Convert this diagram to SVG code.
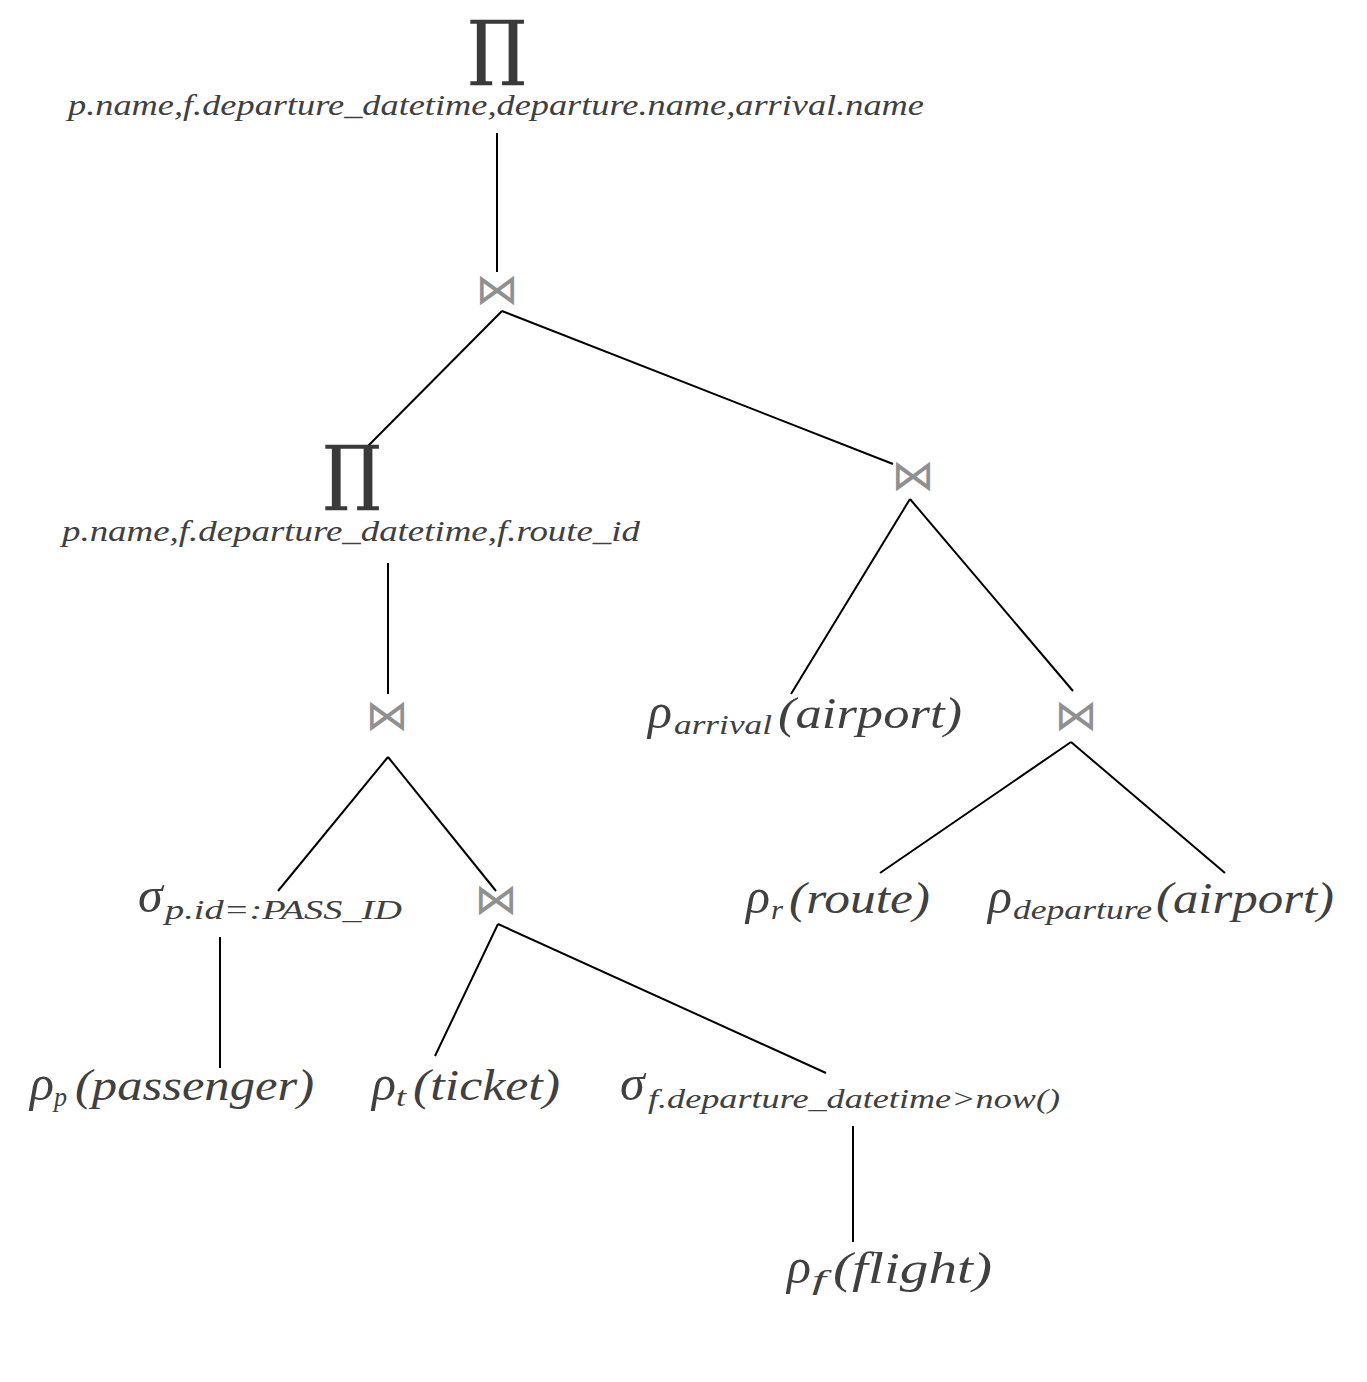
<svg xmlns="http://www.w3.org/2000/svg" width="1367" height="1382" viewBox="0 0 1367 1382">
<style>
text{font-family:"Liberation Serif","DejaVu Serif",serif;font-style:italic;fill:#404040}
.m{font-size:44px}
.s{font-size:30px}
.g{font-size:50px}
.sub{font-size:28px}
.bt{font-family:"DejaVu Sans",sans-serif;font-style:normal;font-size:43px;fill:#909090;text-anchor:middle}
.pi{font-family:"DejaVu Serif",serif;font-style:normal;font-size:70px;fill:#3a3a3a;stroke:#3a3a3a;stroke-width:1.5;text-anchor:middle}
.e line{stroke:#000;stroke-width:2}
</style>
<rect width="1367" height="1382" fill="#fff"/>
<g class="e" id="edges">
<line x1="497" y1="133" x2="497" y2="272"/>
<line x1="502" y1="311" x2="366" y2="448"/>
<line x1="502" y1="311" x2="893" y2="464"/>
<line x1="388" y1="563" x2="388" y2="694"/>
<line x1="910" y1="499" x2="791" y2="694"/>
<line x1="910" y1="499" x2="1073" y2="691"/>
<line x1="388" y1="757" x2="278" y2="891"/>
<line x1="388" y1="757" x2="496" y2="891"/>
<line x1="1071" y1="742" x2="880" y2="873"/>
<line x1="1071" y1="742" x2="1225" y2="873"/>
<line x1="220" y1="937" x2="220" y2="1068"/>
<line x1="498" y1="924" x2="435" y2="1056"/>
<line x1="498" y1="924" x2="826" y2="1073"/>
<line x1="853" y1="1126" x2="853" y2="1242"/>
</g>
<g id="proj1">
<text class="pi" x="497" y="71">∏</text>
<text class="s" x="68" y="115" textLength="856" lengthAdjust="spacingAndGlyphs">p.name,f.departure_datetime,departure.name,arrival.name</text>
</g>
<g id="join1"><text class="bt" x="497" y="304">⋈</text></g>
<g id="proj2">
<text class="pi" x="352" y="496">∏</text>
<text class="s" x="62" y="541" textLength="578" lengthAdjust="spacingAndGlyphs">p.name,f.departure_datetime,f.route_id</text>
</g>
<g id="join2"><text class="bt" x="913" y="490">⋈</text></g>
<g id="join3"><text class="bt" x="387" y="730">⋈</text></g>
<g id="arrival">
<text class="g" x="648" y="728">ρ</text>
<text class="sub" x="674" y="734" textLength="98" lengthAdjust="spacingAndGlyphs">arrival</text>
<text class="m" x="778" y="728" textLength="184" lengthAdjust="spacingAndGlyphs">(airport)</text>
</g>
<g id="join4"><text class="bt" x="1076" y="730">⋈</text></g>
<g id="route">
<text class="g" x="746" y="913">ρ</text>
<text class="sub" x="771" y="919" textLength="12" lengthAdjust="spacingAndGlyphs">r</text>
<text class="m" x="789" y="913" textLength="141" lengthAdjust="spacingAndGlyphs">(route)</text>
</g>
<g id="departure">
<text class="g" x="988" y="913">ρ</text>
<text class="sub" x="1013" y="919" textLength="139" lengthAdjust="spacingAndGlyphs">departure</text>
<text class="m" x="1156" y="913" textLength="178" lengthAdjust="spacingAndGlyphs">(airport)</text>
</g>
<g id="selpass">
<text class="g" x="138" y="912">σ</text>
<text class="sub" x="165" y="919" textLength="237" lengthAdjust="spacingAndGlyphs">p.id=:PASS_ID</text>
</g>
<g id="join5"><text class="bt" x="496" y="914">⋈</text></g>
<g id="passenger">
<text class="g" x="30" y="1100">ρ</text>
<text class="sub" x="54" y="1106" textLength="13" lengthAdjust="spacingAndGlyphs">p</text>
<text class="m" x="75" y="1100" textLength="239" lengthAdjust="spacingAndGlyphs">(passenger)</text>
</g>
<g id="ticket">
<text class="g" x="372" y="1100">ρ</text>
<text class="sub" x="396" y="1106" textLength="10" lengthAdjust="spacingAndGlyphs">t</text>
<text class="m" x="413" y="1100" textLength="147" lengthAdjust="spacingAndGlyphs">(ticket)</text>
</g>
<g id="selflight">
<text class="g" x="620" y="1100">σ</text>
<text class="sub" x="648" y="1108" textLength="412" lengthAdjust="spacingAndGlyphs">f.departure_datetime&gt;now()</text>
</g>
<g id="flight">
<text class="g" x="787" y="1283">ρ</text>
<text class="sub" x="812" y="1289" textLength="14" lengthAdjust="spacingAndGlyphs">f</text>
<text class="m" x="833" y="1283" textLength="159" lengthAdjust="spacingAndGlyphs">(flight)</text>
</g>
</svg>
